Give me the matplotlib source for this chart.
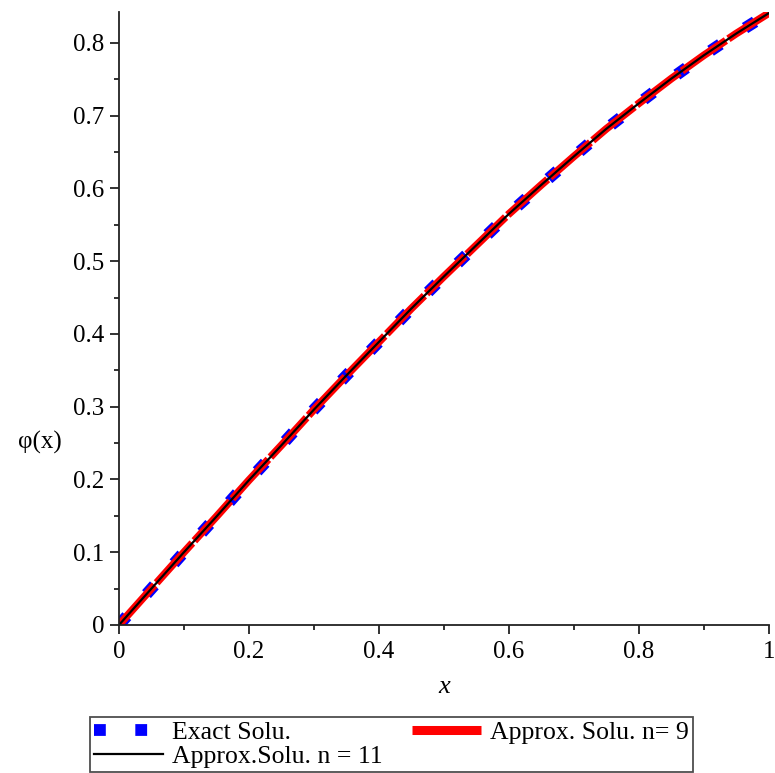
import matplotlib
matplotlib.use("Agg")
import matplotlib.pyplot as plt
from matplotlib.ticker import MultipleLocator
from matplotlib.lines import Line2D

# values
x_vals = [0.00, 0.05, 0.10, 0.15, 0.20, 0.25, 0.30, 0.35, 0.40, 0.45, 0.50,
          0.55, 0.60, 0.65, 0.70, 0.75, 0.80, 0.85, 0.90, 0.95, 1.00]
exact = [0.000, 0.050, 0.100, 0.149, 0.199, 0.247, 0.296, 0.343, 0.389, 0.435, 0.479,
         0.522, 0.565, 0.605, 0.644, 0.682, 0.717, 0.751, 0.783, 0.813, 0.841]
approx9 = [0.000, 0.050, 0.100, 0.149, 0.199, 0.247, 0.296, 0.343, 0.389, 0.435, 0.479,
           0.522, 0.565, 0.605, 0.644, 0.682, 0.717, 0.751, 0.783, 0.813, 0.841]
approx11 = [0.000, 0.050, 0.100, 0.149, 0.199, 0.247, 0.296, 0.343, 0.389, 0.435, 0.479,
            0.522, 0.565, 0.605, 0.644, 0.682, 0.717, 0.751, 0.783, 0.813, 0.841]
x_ticks = [0, 0.2, 0.4, 0.6, 0.8, 1.0]
x_ticklabels = ['0', '0.2', '0.4', '0.6', '0.8', '1']
y_ticks = [0, 0.1, 0.2, 0.3, 0.4, 0.5, 0.6, 0.7, 0.8]
y_ticklabels = ['0', '0.1', '0.2', '0.3', '0.4', '0.5', '0.6', '0.7', '0.8']

plt.rcParams['font.family'] = ['Liberation Serif', 'DejaVu Serif']

fig = plt.figure(figsize=(7.75, 7.73), dpi=100)
ax = fig.add_axes([0.1535, 0.1915, 0.8385, 0.793])

l1, = ax.plot(x_vals, exact, color='#0000ff', lw=8.5, linestyle=(0, (1, 2.5)),
              dash_capstyle='butt', label='Exact Solu.')
l2, = ax.plot(x_vals, approx9, color='#ff0000', lw=5.5, linestyle=(0, (7, 0.4)),
              dash_capstyle='butt', label='Approx. Solu. n= 9')
l3, = ax.plot(x_vals, approx11, color='black', lw=1.6, label='Approx.Solu. n = 11')
l2_key = Line2D([], [], color='#ff0000', lw=6.5, solid_capstyle='butt',
                label='Approx. Solu. n= 9')

ax.set_xlim(0, 1)
ax.set_ylim(0, 0.8426)
ax.spines['top'].set_visible(False)
ax.spines['right'].set_visible(False)
for s in ['left', 'bottom']:
    ax.spines[s].set_linewidth(1.3)
    ax.spines[s].set_color('#222222')
ax.set_xticks(x_ticks)
ax.set_xticklabels(x_ticklabels)
ax.set_yticks(y_ticks)
ax.set_yticklabels(y_ticklabels)
ax.xaxis.set_minor_locator(MultipleLocator(0.1))
ax.yaxis.set_minor_locator(MultipleLocator(0.05))
ax.tick_params(which='major', length=6.5, width=1.3, labelsize=18, color='#222222')
ax.tick_params(axis='y', which='major', pad=4)
ax.tick_params(axis='x', which='major', pad=5)
ax.tick_params(which='minor', length=3.5, width=1.3, color='#222222')

ax.set_xlabel('x', fontsize=19, style='italic')
ax.xaxis.set_label_coords(0.5, -0.083)
fig.text(0.052, 0.428, 'φ(x)', fontsize=18, ha='center', va='center')

leg = fig.legend(handles=[l1, l3, l2_key], loc='lower left',
                 bbox_to_anchor=(0.116, 0.0013, 0.778, 0.084), mode='expand',
                 ncol=2, fontsize=18.5, frameon=True, fancybox=False,
                 edgecolor='#222222', handlelength=2.7, borderpad=0.15,
                 labelspacing=0.05, handletextpad=0.35, borderaxespad=0,
                 columnspacing=0.5)
leg.get_frame().set_linewidth(1.3)

fig.savefig('out.png', dpi=100)
